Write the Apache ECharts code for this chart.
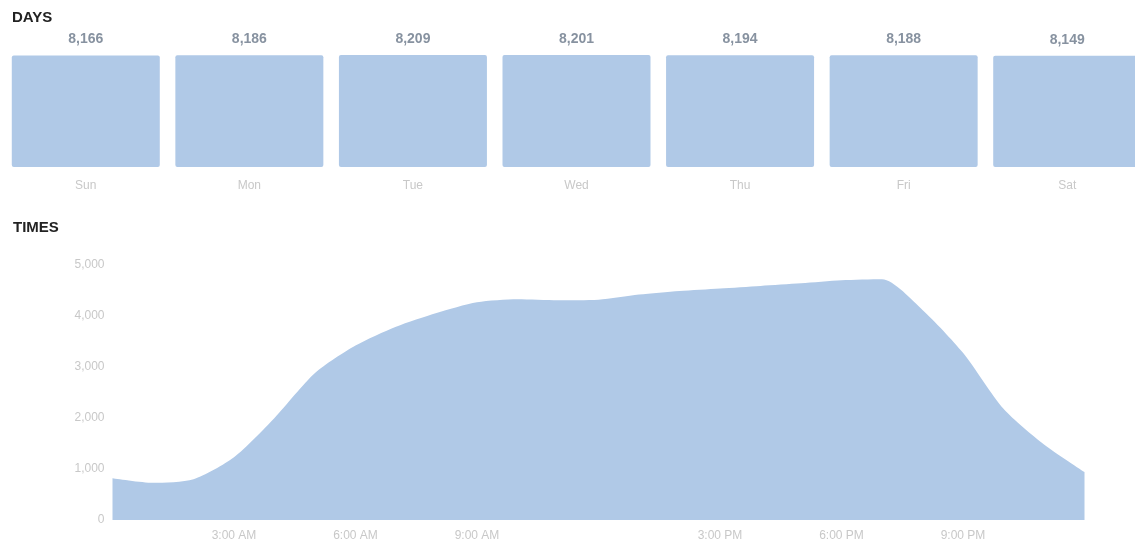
<!DOCTYPE html>
<html>
<head>
<meta charset="utf-8">
<script src="https://cdn.jsdelivr.net/npm/echarts@6/dist/echarts.min.js"></script>
<style>
  html, body { margin: 0; padding: 0; background: #fff; overflow: hidden; }
  /* a little wider than the window: the last day bar runs off the right edge */
  #chart { width: 1150px; height: 550px; }
</style>
</head>
<body>
<div id="chart"></div>
<script>
// days panel
const dayNames = ['Sun', 'Mon', 'Tue', 'Wed', 'Thu', 'Fri', 'Sat'];
const dayValues = [8166, 8186, 8209, 8201, 8194, 8188, 8149];

// times panel (one value per hour, midnight to midnight)
const hourLabels = [
  '12:00 AM', '1:00 AM', '2:00 AM', '3:00 AM', '4:00 AM', '5:00 AM', '6:00 AM',
  '7:00 AM', '8:00 AM', '9:00 AM', '10:00 AM', '11:00 AM', '12:00 PM',
  '1:00 PM', '2:00 PM', '3:00 PM', '4:00 PM', '5:00 PM', '6:00 PM',
  '7:00 PM', '8:00 PM', '9:00 PM', '10:00 PM', '11:00 PM', '12:00 AM'
];
const hourValues = [
  820, 730, 800, 1230, 2000, 2880, 3420, 3790, 4060, 4270, 4330, 4310, 4320,
  4420, 4490, 4540, 4590, 4640, 4700, 4720, 4120, 3280, 2180, 1480, 940
];
const shownHours = [3, 6, 9, 15, 18, 21];
const yTicks = [0, 1000, 2000, 3000, 4000, 5000];

const fill = '#b0c9e7';
const faint = '#c8c8c8';
const font = 'Arial, "Liberation Sans", sans-serif';

const myChart = echarts.init(document.getElementById('chart'));

const option = {
  animation: false,
  textStyle: { fontFamily: font },
  title: [
    { text: 'DAYS', left: 7, top: 5, textStyle: { fontSize: 15, fontWeight: 'bold', color: '#222' } },
    { text: 'TIMES', left: 8, top: 215, textStyle: { fontSize: 15, fontWeight: 'bold', color: '#222' } }
  ],
  grid: [
    { left: 4, top: 55, width: 1145, height: 112 },
    { left: 112.5, top: 265, width: 972, height: 255 }
  ],
  xAxis: [
    {
      type: 'category',
      gridIndex: 0,
      data: dayNames,
      axisLine: { show: false },
      axisTick: { show: false },
      axisLabel: { color: faint, fontSize: 12, margin: 13 }
    },
    {
      type: 'category',
      gridIndex: 1,
      data: hourLabels,
      boundaryGap: false,
      axisLine: { show: false },
      axisTick: { show: false },
      axisLabel: {
        color: faint,
        fontSize: 12,
        margin: 10,
        interval: (i) => shownHours.includes(i)
      }
    }
  ],
  yAxis: [
    { type: 'value', gridIndex: 0, min: 0, max: 'dataMax', show: false },
    {
      type: 'value',
      gridIndex: 1,
      min: yTicks[0],
      max: yTicks[yTicks.length - 1],
      interval: 1000,
      axisLine: { show: false },
      axisTick: { show: false },
      splitLine: { show: false },
      axisLabel: {
        color: faint,
        fontSize: 12,
        margin: 8,
        formatter: (v) => v.toLocaleString('en-US')
      }
    }
  ],
  series: [
    {
      type: 'bar',
      xAxisIndex: 0,
      yAxisIndex: 0,
      data: dayValues,
      barWidth: 148,
      itemStyle: { color: fill, borderRadius: 2 },
      label: {
        show: true,
        position: 'top',
        distance: 9,
        color: '#8792a0',
        fontSize: 14,
        fontWeight: 'bold',
        formatter: (p) => p.value.toLocaleString('en-US')
      }
    },
    {
      type: 'line',
      xAxisIndex: 1,
      yAxisIndex: 1,
      data: hourValues,
      smooth: 0.25,
      symbol: 'none',
      lineStyle: { width: 0 },
      areaStyle: { color: fill, opacity: 1 }
    }
  ]
};

myChart.setOption(option);
window.addEventListener('resize', function () {
  myChart.resize();
});
</script>
</body>
</html>
